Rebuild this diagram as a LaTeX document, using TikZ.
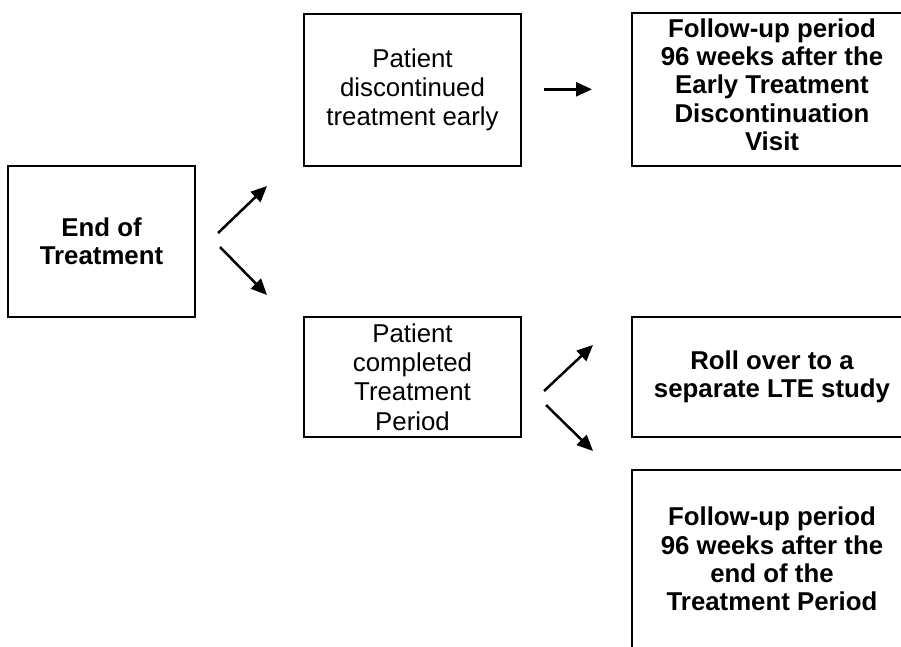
\documentclass[tikz,border=0pt]{standalone}
\usepackage{fontspec}
\setmainfont{Liberation Sans}
\usetikzlibrary{arrows.meta}
\begin{document}
\begin{tikzpicture}[x=1pt,y=-1pt,
  box/.style={draw,line width=2pt,inner sep=0pt,align=center},
  regtext/.style={font=\fontsize{25.8pt}{29.3pt}\selectfont},
  boldtext/.style={font=\fontsize{25.8pt}{28.3pt}\selectfont\bfseries},
  arr/.style={line width=2.5pt,-{Triangle[length=16pt,width=14pt]}}]
\useasboundingbox (0,0) rectangle (901,646);
\clip (0,0) rectangle (901,646);
\node[box,boldtext,minimum width=187pt,minimum height=151pt] (eot) at (101.5,241.5) {End of\\Treatment};
\node[box,regtext,minimum width=217pt,minimum height=152pt] (disc) at (412.5,90) {Patient\\discontinued\\treatment early};
\node[box,boldtext,minimum width=280pt,minimum height=153pt,text depth=10pt] (fu1) at (772,89.5) {Follow-up period\\96 weeks after the\\Early Treatment\\Discontinuation\\Visit};
\node[box,regtext,minimum width=217pt,minimum height=120pt] (comp) at (412.5,377) {Patient\\completed\\Treatment\\Period};
\node[box,boldtext,minimum width=280pt,minimum height=120pt] (roll) at (772,377) {Roll over to a\\separate LTE study};
\node[box,boldtext,minimum width=280pt,minimum height=178pt] (fu2) at (772,559) {Follow-up period\\96 weeks after the\\end of the\\Treatment Period};
\coordinate (a1s) at (218,233); \coordinate (a1e) at (267,186);
\coordinate (a2s) at (220,247); \coordinate (a2e) at (267,295);
\coordinate (a3s) at (544,89.3); \coordinate (a3e) at (592,89.3);
\coordinate (a4s) at (544,391); \coordinate (a4e) at (593,345);
\coordinate (a5s) at (546,405); \coordinate (a5e) at (593,451);
\draw[arr] (a1s) -- (a1e);
\draw[arr] (a2s) -- (a2e);
\draw[arr] (a3s) -- (a3e);
\draw[arr] (a4s) -- (a4e);
\draw[arr] (a5s) -- (a5e);
\end{tikzpicture}
\end{document}
